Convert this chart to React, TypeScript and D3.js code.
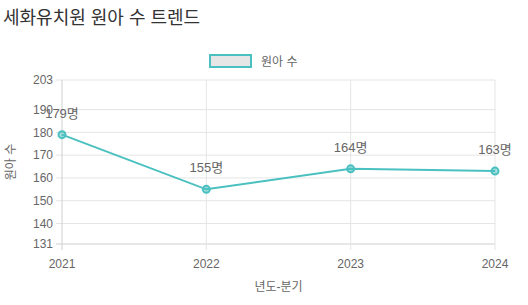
import React from 'react';
import * as d3 from 'd3';

const years = ['2021', '2022', '2023', '2024'];
const students = [179, 155, 164, 163];
const yTicks = [131, 140, 150, 160, 170, 180, 190, 203];
const seriesName = '원아 수';
const title = '세화유치원 원아 수 트렌드';

const W = 528;
const H = 305;
const margin = { top: 80, right: 33, bottom: 61, left: 62 };
const teal = '#4bc0c0';
const font = '"Liberation Sans", Arial, "Noto Sans CJK KR", sans-serif';

const App = () => {
  const x = d3.scalePoint<string>()
    .domain(years)
    .range([margin.left, W - margin.right]);
  const y = d3.scaleLinear()
    .domain([131, 203])
    .range([H - margin.bottom, margin.top]);

  const line = d3.line<number>()
    .x((_, i) => x(years[i]) as number)
    .y(d => y(d));

  const bottom = H - margin.bottom;

  return (
    <svg width={W} height={H} style={{ position: 'absolute', left: 0, top: 0, fontFamily: font }}>
      <text x={3} y={24} fontSize={18} fill="#333">{title}</text>

      {/* legend */}
      <rect x={210} y={55} width={41} height={12} fill="#e6e6e6" stroke={teal} strokeWidth={2} />
      <text x={261} y={65.5} fontSize={12} fill="#666">{seriesName}</text>

      {/* grid */}
      {yTicks.map(t => (
        <g key={t}>
          <line x1={margin.left - 6} x2={W - margin.right} y1={y(t)} y2={y(t)}
            stroke={t === 131 ? '#cfcfcf' : '#e5e5e5'} />
          <text x={margin.left - 9} y={y(t)} dy="0.35em" textAnchor="end" fontSize={12} fill="#666">{t}</text>
        </g>
      ))}
      {years.map(yr => (
        <g key={yr}>
          <line x1={x(yr)} x2={x(yr)} y1={margin.top} y2={bottom + 6}
            stroke={yr === '2021' ? '#cfcfcf' : '#e5e5e5'} />
          <text x={x(yr)} y={bottom + 24} textAnchor="middle" fontSize={12} fill="#666">{yr}</text>
        </g>
      ))}

      <text x={(margin.left + W - margin.right) / 2} y={291} textAnchor="middle" fontSize={12} fill="#666">년도-분기</text>
      <text transform={`translate(15,${(margin.top + bottom) / 2}) rotate(-90)`} textAnchor="middle" fontSize={12} fill="#666">{seriesName}</text>

      <path d={line(students) ?? ''} fill="none" stroke={teal} strokeWidth={2} />
      {students.map((v, i) => (
        <g key={i}>
          <circle cx={x(years[i])} cy={y(v)} r={3.5} fill="rgba(75,192,192,0.5)" stroke={teal} strokeWidth={2} />
          <text x={x(years[i])} y={y(v) - 17} textAnchor="middle" fontSize={13} fill="#666">{v}명</text>
        </g>
      ))}
    </svg>
  );
};

export default App;
